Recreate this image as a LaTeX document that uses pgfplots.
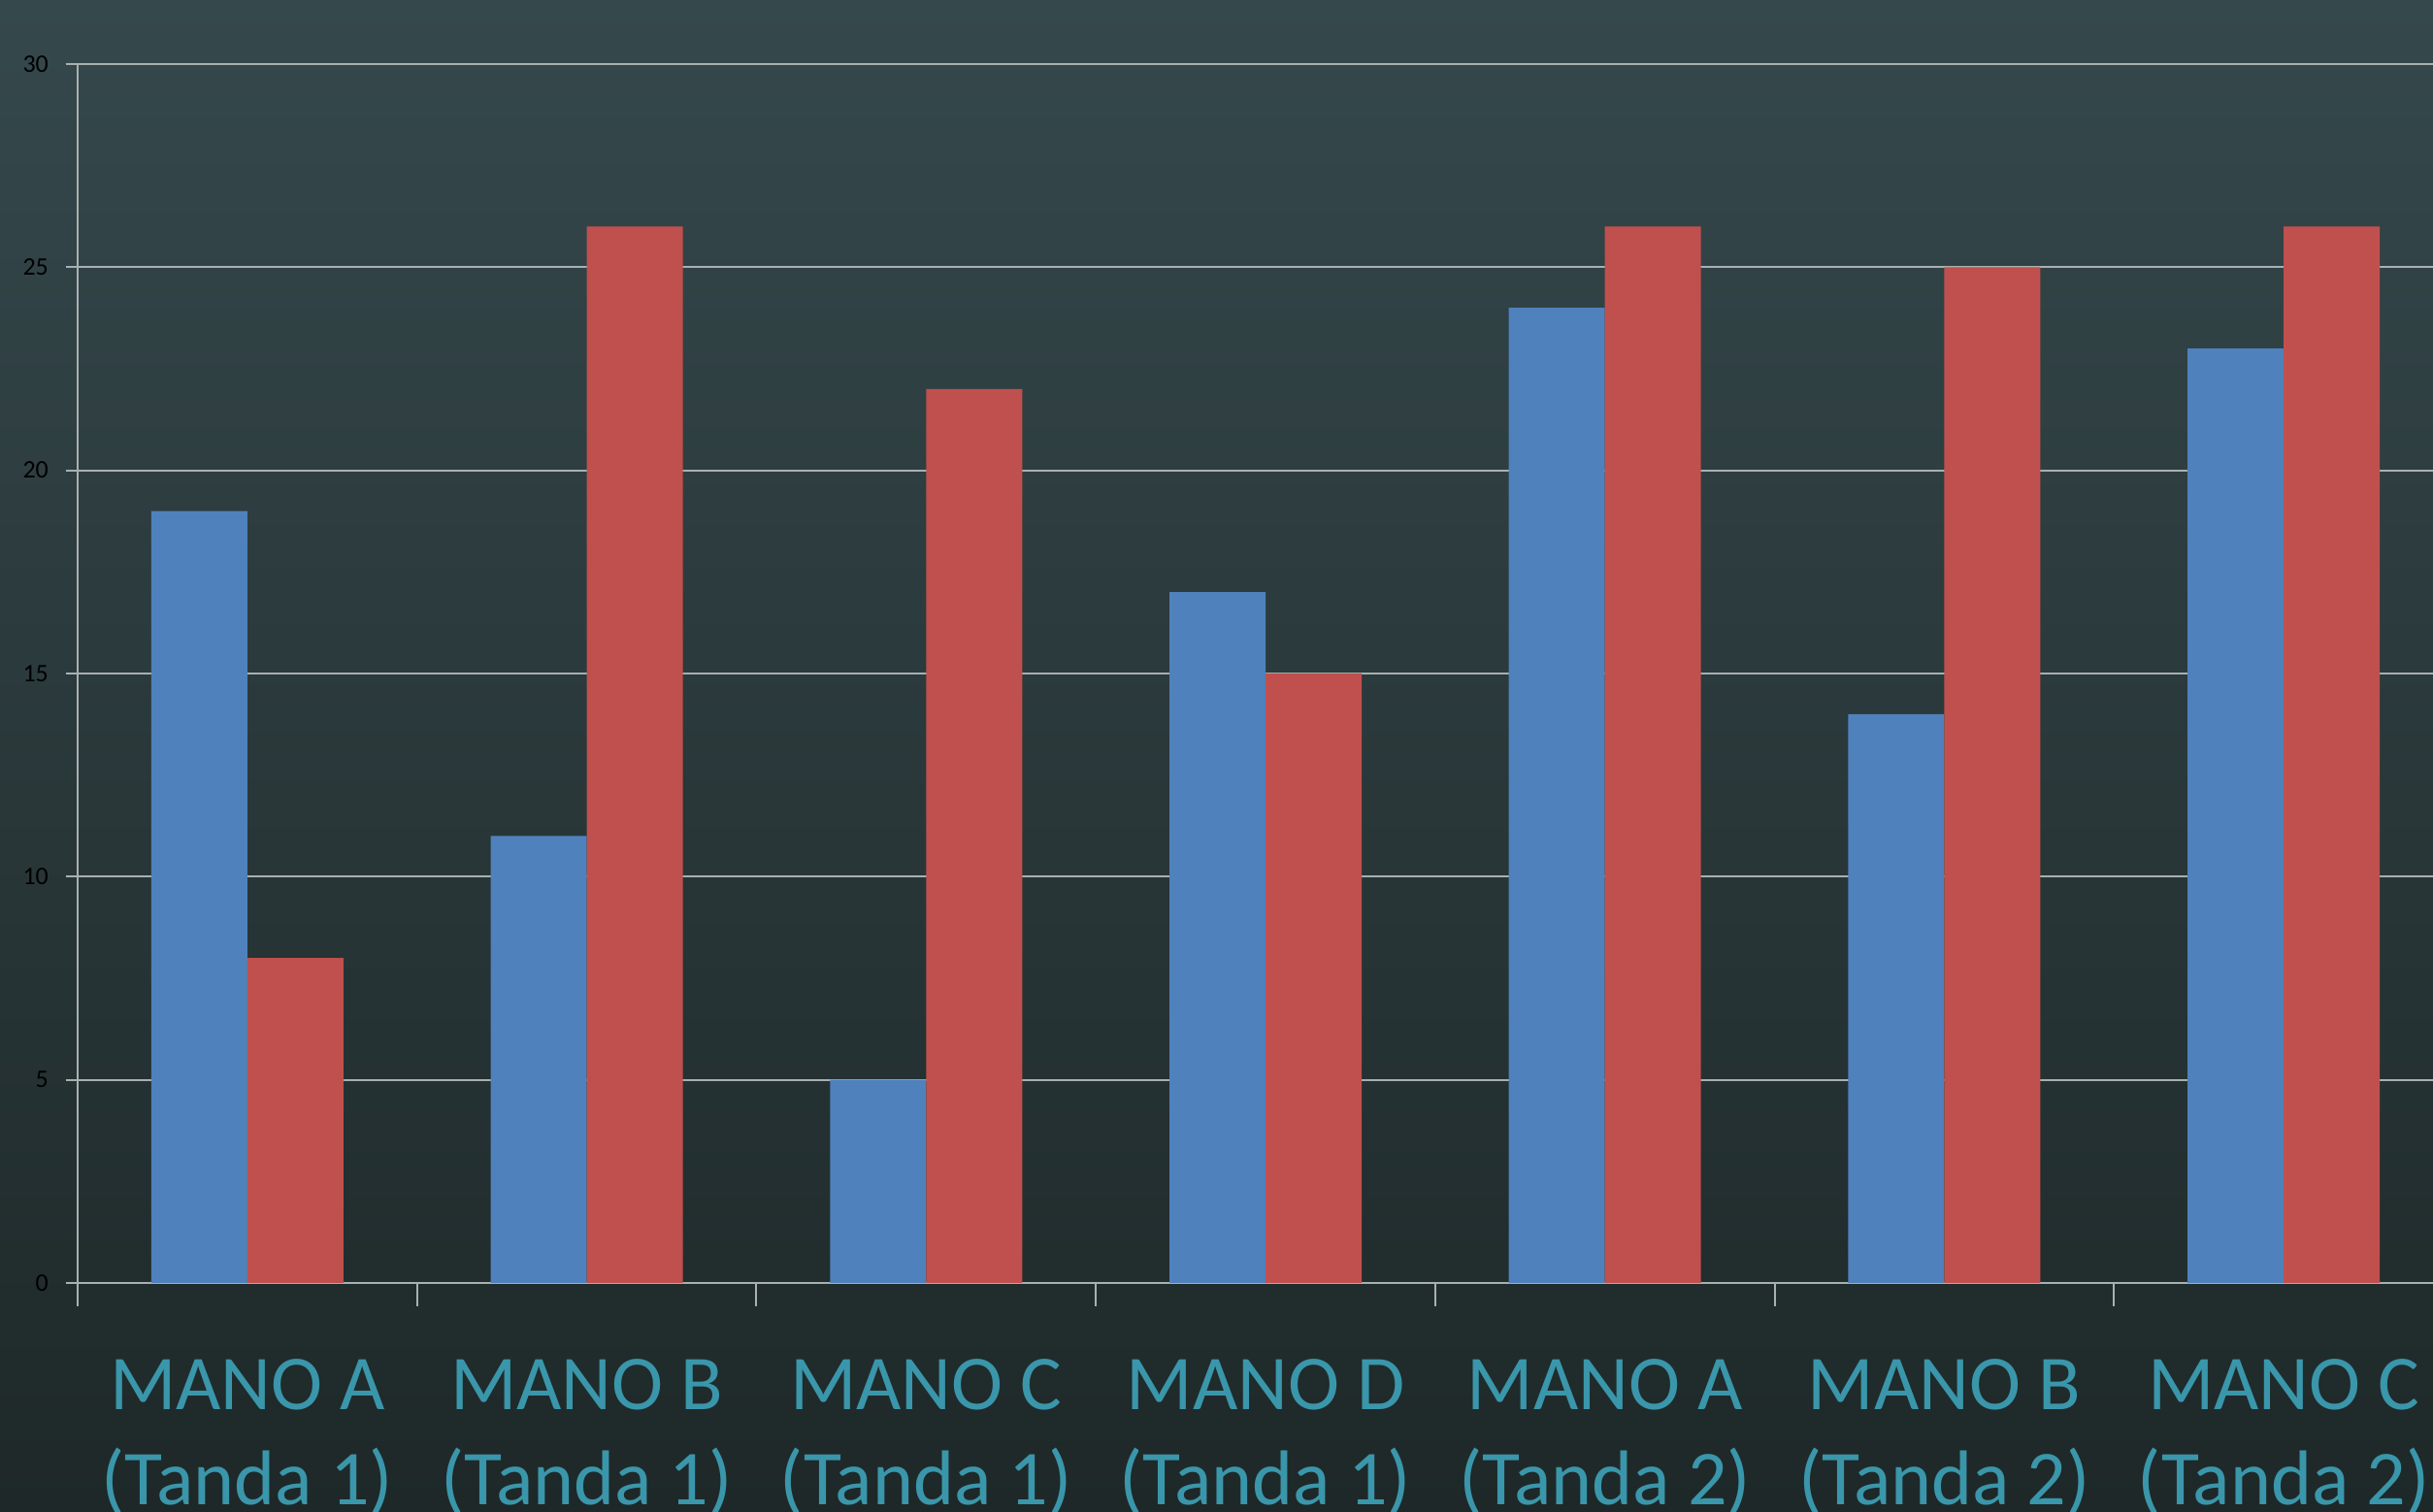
\documentclass[border=0pt]{standalone}
\usepackage{pgfplots}
\pgfplotsset{compat=1.18}
\usepackage{fontspec}
\setmainfont{Carlito}
\definecolor{bgtop}{RGB}{53,72,76}
\definecolor{bgbot}{RGB}{30,40,40}
\definecolor{barblue}{RGB}{79,129,189}
\definecolor{barred}{RGB}{192,80,77}
\definecolor{gridc}{RGB}{168,176,176}
\definecolor{labc}{RGB}{58,150,170}
\begin{document}
\begin{tikzpicture}
\useasboundingbox (0,0) rectangle (626.75pt,389.5pt);
\clip (0,0) rectangle (626.75pt,389.5pt);
\shade[top color=bgtop, bottom color=bgbot] (0,0) rectangle (626.75pt,389.5pt);
\begin{axis}[
  at={(20pt,59pt)}, anchor=south west,
  scale only axis, width=606.75pt, height=314pt,
  xmin=-0.5, xmax=6.44, ymin=0, ymax=30,
  ybar=0pt, bar width=24.75pt,
  axis x line=bottom, axis y line=left,
  axis line style={gridc, line width=0.5pt, -},
  every outer x axis line/.append style={-},
  every outer y axis line/.append style={-},
  ytick={0,5,...,30},
  ymajorgrids, grid style={gridc, line width=0.5pt},
  xtick={0,...,6},
  xticklabels={{MANO A\\(Tanda 1)},{MANO B\\(Tanda 1)},{MANO C\\(Tanda 1)},{MANO D\\(Tanda 1)},{MANO A\\(Tanda 2)},{MANO B\\(Tanda 2)},{MANO C\\(Tanda 2)}},
  minor xtick={-0.5,0.5,...,5.5},
  tick align=outside,
  major tick length=3pt,
  minor tick length=6pt,
  major x tick style={draw=none},
  minor x tick style={gridc, line width=0.5pt},
  y tick style={gridc, line width=0.5pt},
  /pgf/number format/assume math mode=true,
  yticklabel style={black, font=\fontsize{6.5}{7}\selectfont, xshift=-1pt},
  xticklabel style={align=center, text=labc, font=\fontsize{20}{24.5}\selectfont, inner sep=0pt, yshift=-16.5pt},
]
\addplot[fill=barblue, draw=none] coordinates {(0,19) (1,11) (2,5) (3,17) (4,24) (5,14) (6,23)};
\addplot[fill=barred, draw=none] coordinates {(0,8) (1,26) (2,22) (3,15) (4,26) (5,25) (6,26)};
\end{axis}
\end{tikzpicture}
\end{document}
